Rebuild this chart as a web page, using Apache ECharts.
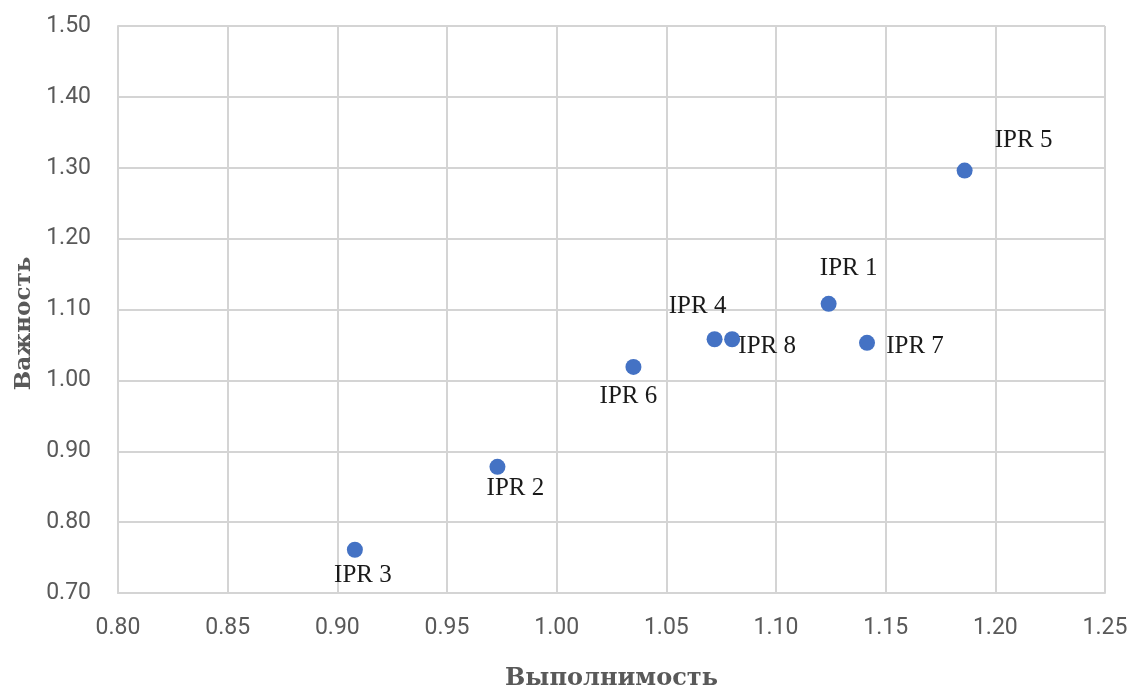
<!DOCTYPE html>
<html>
<head>
<meta charset="utf-8">
<script src="https://cdn.jsdelivr.net/npm/echarts@6/dist/echarts.min.js"></script>
<style>html,body{margin:0;padding:0;background:#fff}#c{width:1132px;height:691px}</style>
</head>
<body>
<div id="c"></div>
<script>
const names = ['IPR 1','IPR 2','IPR 3','IPR 4','IPR 5','IPR 6','IPR 7','IPR 8'];
const feasibility = [1.124, 0.973, 0.908, 1.072, 1.186, 1.035, 1.1415, 1.080];
const importance = [1.108, 0.878, 0.761, 1.058, 1.296, 1.019, 1.053, 1.058];
const xTicks = {min: 0.80, max: 1.25, step: 0.05};
const yTicks = {min: 0.70, max: 1.50, step: 0.10};
const labelOffsets = [[20,-35],[18,22],[8,26],[-17,-33],[59,-30],[-5,30],[48,4],[35,7]];

const chart = echarts.init(document.getElementById('c'));
const data = names.map((n,i)=>({
  value:[feasibility[i], importance[i]], name:n,
  label:{offset:labelOffsets[i]}
}));
const gridLine = {show:true, lineStyle:{color:'#d4d4d4', width:2}};
chart.setOption({
  animation:false,
  grid:{left:118, right:27, top:26, bottom:98, containLabel:false, outerBoundsMode:'none'},
  xAxis:{type:'value', min:xTicks.min, max:xTicks.max, interval:xTicks.step,
    name:'Выполнимость', nameLocation:'middle', nameGap:74,
    nameTextStyle:{fontFamily:'DejaVu Serif', fontWeight:'bold', fontSize:24, color:'#595959'},
    axisLine:{show:true, lineStyle:{color:'#d4d4d4', width:2}}, axisTick:{show:false},
    splitLine:gridLine,
    axisLabel:{formatter:v=>v.toFixed(2), fontFamily:'Roboto', fontSize:23, color:'#595959', margin:24}},
  yAxis:{type:'value', min:yTicks.min, max:yTicks.max, interval:yTicks.step,
    name:'Важность', nameLocation:'middle', nameGap:82,
    nameTextStyle:{fontFamily:'DejaVu Serif', fontWeight:'bold', fontSize:23, color:'#595959', padding:[0,28,0,0]},
    axisLine:{show:true, lineStyle:{color:'#d4d4d4', width:2}}, axisTick:{show:false},
    splitLine:gridLine,
    axisLabel:{formatter:v=>v.toFixed(2), fontFamily:'Roboto', fontSize:23, color:'#595959', margin:27}},
  series:[{
    type:'scatter', symbolSize:16, itemStyle:{color:'#4472C4', opacity:1},
    data:data,
    label:{show:true, position:'inside', formatter:p=>p.name,
      fontFamily:'Liberation Serif', fontSize:25, color:'#1a1a1a'}
  }]
});
</script>
</body>
</html>
